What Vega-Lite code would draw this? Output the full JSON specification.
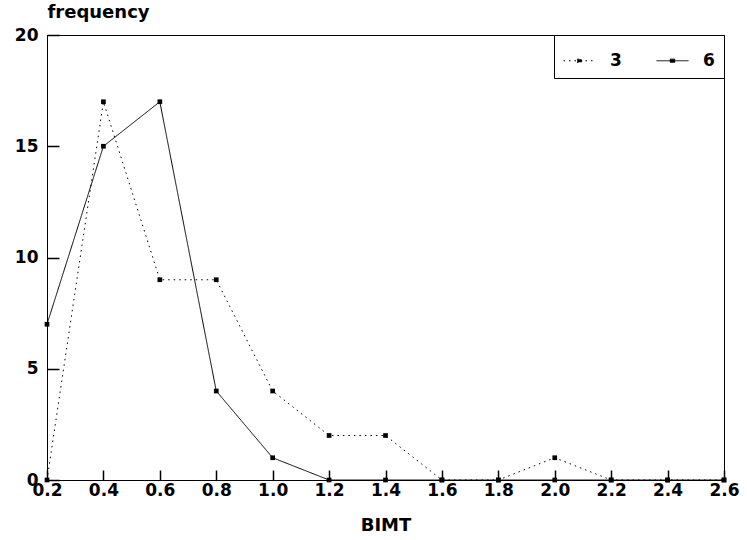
{
  "$schema": "https://vega.github.io/schema/vega-lite/v6.json",
  "width": 677,
  "height": 445,
  "autosize": {"type": "none"},
  "padding": {"left": 47, "top": 35, "right": 23, "bottom": 60},
  "background": "white",
  "config": {
    "view": {"stroke": "black", "strokeWidth": 1},
    "font": "DejaVu Sans",
    "axis": {
      "grid": false,
      "zindex": 1,
      "ticks": true,
      "domainColor": "black",
      "tickColor": "black",
      "tickWidth": 1.5,
      "tickOpacity": 1,
      "labelFlush": false,
      "labelOverlap": false,
      "labelColor": "black",
      "titleColor": "black",
      "labelFont": "DejaVu Sans",
      "titleFont": "DejaVu Sans",
      "labelFontSize": 17,
      "labelFontWeight": "bold",
      "titleFontSize": 18,
      "titleFontWeight": "bold"
    }
  },
  "data": {
    "values": [
      {"BIMT": 0.2, "frequency": 0, "series": "3"},
      {"BIMT": 0.4, "frequency": 17, "series": "3"},
      {"BIMT": 0.6, "frequency": 9, "series": "3"},
      {"BIMT": 0.8, "frequency": 9, "series": "3"},
      {"BIMT": 1.0, "frequency": 4, "series": "3"},
      {"BIMT": 1.2, "frequency": 2, "series": "3"},
      {"BIMT": 1.4, "frequency": 2, "series": "3"},
      {"BIMT": 1.6, "frequency": 0, "series": "3"},
      {"BIMT": 1.8, "frequency": 0, "series": "3"},
      {"BIMT": 2.0, "frequency": 1, "series": "3"},
      {"BIMT": 2.2, "frequency": 0, "series": "3"},
      {"BIMT": 2.4, "frequency": 0, "series": "3"},
      {"BIMT": 2.6, "frequency": 0, "series": "3"},
      {"BIMT": 0.2, "frequency": 7, "series": "6"},
      {"BIMT": 0.4, "frequency": 15, "series": "6"},
      {"BIMT": 0.6, "frequency": 17, "series": "6"},
      {"BIMT": 0.8, "frequency": 4, "series": "6"},
      {"BIMT": 1.0, "frequency": 1, "series": "6"},
      {"BIMT": 1.2, "frequency": 0, "series": "6"},
      {"BIMT": 1.4, "frequency": 0, "series": "6"},
      {"BIMT": 1.6, "frequency": 0, "series": "6"},
      {"BIMT": 1.8, "frequency": 0, "series": "6"},
      {"BIMT": 2.0, "frequency": 0, "series": "6"},
      {"BIMT": 2.2, "frequency": 0, "series": "6"},
      {"BIMT": 2.4, "frequency": 0, "series": "6"},
      {"BIMT": 2.6, "frequency": 0, "series": "6"}
    ]
  },
  "encoding": {
    "x": {
      "field": "BIMT",
      "type": "quantitative",
      "scale": {"domain": [0.2, 2.6], "nice": false, "zero": false},
      "axis": {
        "values": [0.2, 0.4, 0.6, 0.8, 1.0, 1.2, 1.4, 1.6, 1.8, 2.0, 2.2, 2.4, 2.6],
        "format": ".1f",
        "title": "BIMT",
        "tickSize": -10,
        "labelPadding": 12,
        "titlePadding": 18
      }
    },
    "y": {
      "field": "frequency",
      "type": "quantitative",
      "scale": {"domain": [0, 20], "nice": false},
      "axis": {
        "values": [0, 5, 10, 15, 20],
        "title": "frequency",
        "tickSize": -12,
        "labelPadding": 21,
        "titleAngle": 0,
        "titleAlign": "left",
        "titleBaseline": "alphabetic",
        "titleX": 0,
        "titleY": -18
      }
    }
  },
  "layer": [
    {
      "mark": {"type": "line", "color": "black", "strokeWidth": 1},
      "encoding": {
        "strokeDash": {
          "field": "series",
          "type": "nominal",
          "scale": {"domain": ["3", "6"], "range": [[1.5, 4], [1, 0]]},
          "legend": {
            "title": null,
            "orient": "top-right",
            "offset": 0,
            "direction": "horizontal",
            "strokeColor": "black",
            "padding": 9,
            "symbolType": "M-1,0H1M-0.14,-0.1H0.14V0.1H-0.14Z",
            "symbolSize": 1024,
            "symbolStrokeColor": "black",
            "symbolFillColor": "black",
            "symbolStrokeWidth": 1,
            "labelFontSize": 17,
            "labelFontWeight": "bold",
            "labelColor": "black",
            "labelOffset": 14,
            "columnPadding": 32,
            "fillColor": "white"
          }
        }
      }
    },
    {
      "mark": {"type": "point", "shape": "square", "filled": true, "color": "black", "size": 22, "opacity": 1},
      "encoding": {"detail": {"field": "series"}}
    }
  ]
}
